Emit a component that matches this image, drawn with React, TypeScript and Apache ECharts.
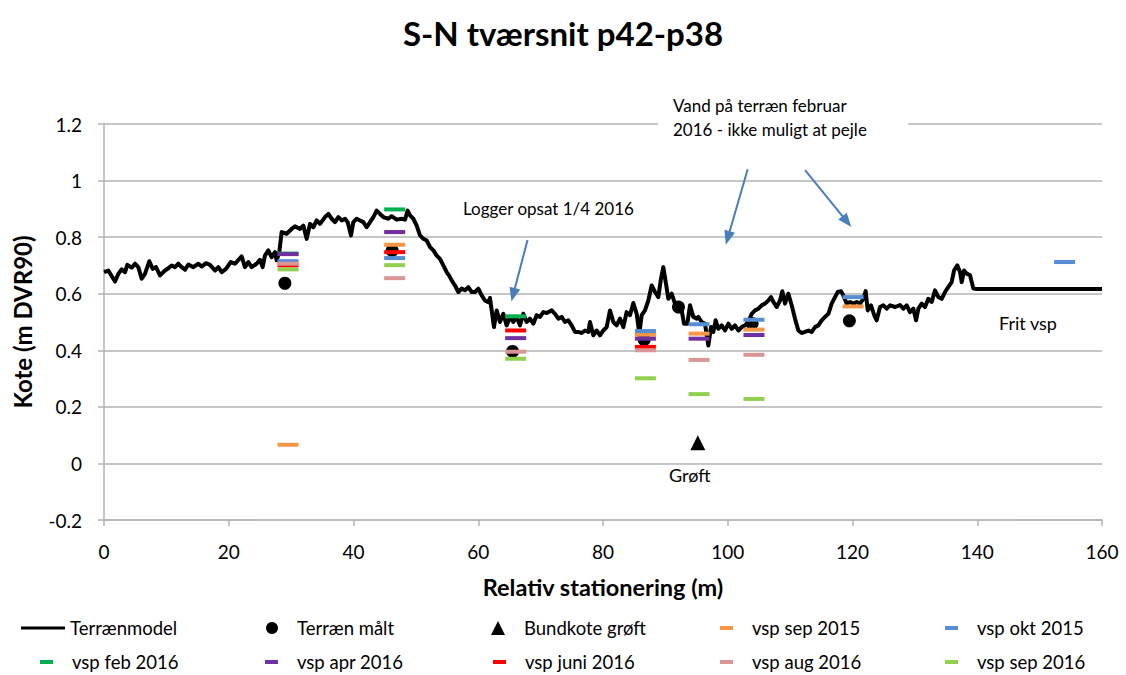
import React, { useEffect, useRef } from "react";
import * as echarts from "echarts";

const FONT = "Lato, 'Liberation Sans', sans-serif";

// Terrain model profile (station m, kote m DVR90)
const terrainStation = [
  0, 0.69, 1.76, 2.3, 2.83, 3.37, 3.74, 4.44, 4.97, 5.5, 6.04, 6.57, 7.27, 7.8, 8.34, 8.98, 9.78, 10.31, 10.85, 11.38,
  11.92, 12.45, 12.99, 13.52, 14.32, 15.12, 15.66, 16.35, 16.99, 17.8, 18.33, 18.87, 19.56, 20.31, 21.0, 22.07, 22.6,
  23.14, 23.67, 24.47, 25.0, 25.43, 25.8, 26.34, 26.87, 27.41, 27.68, 28.1, 28.48, 29.28, 30.08, 30.62, 31.42, 31.96,
  32.49, 33.03, 33.56, 34.1, 34.63, 35.43, 35.97, 36.5, 37.03, 37.57, 38.1, 38.64, 39.07, 39.6, 39.97, 40.51, 41.04,
  41.58, 42.11, 42.65, 43.18, 43.71, 44.25, 44.78, 45.58, 46.12, 46.92, 47.72, 48.26, 48.68, 49.06, 49.59, 50.13,
  50.66, 51.2, 51.73, 52.27, 52.8, 53.34, 53.87, 54.4, 54.94, 55.31, 55.74, 56.27, 56.81, 57.34, 57.88, 58.41, 58.95,
  59.48, 60.02, 60.55, 61.08, 61.62, 61.88, 62.52, 62.95, 63.48, 64.02, 64.55, 65.09, 65.62, 66.16, 66.69, 67.22,
  67.76, 68.29, 68.83, 69.36, 69.9, 70.43, 70.97, 71.77, 72.3, 72.84, 73.37, 73.91, 74.44, 74.97, 75.51, 76.04, 76.58,
  77.11, 77.65, 77.91, 78.45, 78.98, 79.52, 80.05, 80.59, 81.12, 81.66, 82.19, 82.72, 83.26, 83.79, 84.33, 84.86,
  85.4, 85.82, 86.2, 86.73, 87.27, 87.8, 88.34, 88.87, 89.25, 89.67, 90.1, 90.47, 91.01, 91.54, 92.08, 92.61, 92.99,
  93.52, 93.95, 94.48, 95.02, 95.28, 95.82, 96.35, 96.89, 97.32, 97.69, 98.06, 98.49, 99.03, 99.56, 100.1, 100.63,
  101.16, 101.7, 102.23, 102.77, 103.3, 103.84, 104.37, 104.91, 105.44, 105.97, 106.51, 106.94, 107.31, 107.84,
  108.38, 108.75, 109.18, 109.71, 110.25, 110.78, 111.32, 111.85, 112.39, 112.92, 113.46, 113.99, 114.53, 115.06,
  115.59, 116.13, 116.66, 117.2, 117.63, 118.16, 118.53, 119.07, 119.6, 120.14, 120.67, 121.21, 121.74, 122.11,
  122.44, 122.97, 123.5, 123.88, 124.41, 124.95, 125.48, 126.02, 126.82, 127.62, 128.15, 128.69, 129.22, 129.76,
  130.19, 130.56, 131.09, 131.63, 132.16, 132.7, 133.23, 133.77, 134.3, 134.84, 135.37, 135.9, 136.28, 136.81,
  137.24, 137.51, 137.88, 138.31, 138.84, 139.38, 139.91, 160,
];
const terrainKote = [
  0.676, 0.682, 0.643, 0.67, 0.686, 0.676, 0.702, 0.692, 0.706, 0.694, 0.653, 0.67, 0.715, 0.688, 0.694, 0.665, 0.682,
  0.69, 0.7, 0.694, 0.706, 0.694, 0.685, 0.703, 0.694, 0.706, 0.696, 0.708, 0.702, 0.682, 0.694, 0.676, 0.688, 0.712,
  0.706, 0.732, 0.694, 0.712, 0.694, 0.706, 0.72, 0.694, 0.735, 0.753, 0.729, 0.747, 0.718, 0.747, 0.818, 0.812,
  0.829, 0.838, 0.829, 0.841, 0.794, 0.847, 0.835, 0.859, 0.847, 0.871, 0.882, 0.865, 0.853, 0.871, 0.859, 0.865,
  0.853, 0.806, 0.853, 0.865, 0.859, 0.853, 0.835, 0.853, 0.871, 0.894, 0.882, 0.871, 0.865, 0.874, 0.862, 0.865,
  0.862, 0.894, 0.877, 0.865, 0.841, 0.806, 0.794, 0.788, 0.765, 0.753, 0.735, 0.723, 0.7, 0.676, 0.665, 0.647,
  0.629, 0.606, 0.618, 0.612, 0.623, 0.606, 0.606, 0.618, 0.594, 0.576, 0.57, 0.585, 0.482, 0.541, 0.5, 0.529, 0.488,
  0.518, 0.5, 0.518, 0.488, 0.529, 0.5, 0.512, 0.494, 0.524, 0.518, 0.535, 0.532, 0.541, 0.529, 0.512, 0.518, 0.5,
  0.506, 0.488, 0.465, 0.465, 0.461, 0.47, 0.465, 0.5, 0.453, 0.47, 0.453, 0.47, 0.482, 0.541, 0.5, 0.488, 0.512,
  0.482, 0.535, 0.524, 0.567, 0.529, 0.459, 0.524, 0.541, 0.576, 0.629, 0.606, 0.588, 0.647, 0.694, 0.635, 0.582,
  0.6, 0.565, 0.553, 0.541, 0.494, 0.494, 0.559, 0.518, 0.512, 0.518, 0.5, 0.494, 0.417, 0.482, 0.465, 0.506, 0.476,
  0.488, 0.47, 0.494, 0.476, 0.488, 0.47, 0.482, 0.488, 0.5, 0.529, 0.541, 0.547, 0.559, 0.565, 0.576, 0.588, 0.571,
  0.553, 0.576, 0.609, 0.565, 0.6, 0.559, 0.512, 0.47, 0.461, 0.465, 0.47, 0.465, 0.482, 0.488, 0.506, 0.518, 0.529,
  0.565, 0.588, 0.606, 0.609, 0.594, 0.565, 0.571, 0.565, 0.571, 0.565, 0.582, 0.609, 0.541, 0.559, 0.523, 0.506,
  0.553, 0.559, 0.547, 0.559, 0.553, 0.56, 0.547, 0.559, 0.535, 0.547, 0.506, 0.547, 0.565, 0.553, 0.582, 0.571,
  0.612, 0.588, 0.582, 0.606, 0.624, 0.641, 0.682, 0.7, 0.677, 0.641, 0.682, 0.671, 0.665, 0.618, 0.617, 0.617,
];

// Measured terrain points
const measuredStation = [29.0, 46.2, 65.5, 86.6, 92.1, 103.9, 119.5];
const measuredKote = [0.637, 0.753, 0.396, 0.437, 0.553, 0.495, 0.504];

// Ditch bottom
const ditchStation = [95.2];
const ditchKote = [0.073];

// Water level (vsp) wells
const wellStation = [29.5, 46.6, 66.0, 86.8, 95.4, 104.2, 120.1, 154.0];
const vspSep2015 = [0.066, 0.773, null, 0.455, 0.459, 0.473, 0.555, null];
const vspOkt2015 = [0.715, 0.726, null, 0.468, 0.492, 0.508, 0.588, 0.712];
const vspFeb2016 = [0.742, 0.898, 0.52, null, null, null, null, null];
const vspApr2016 = [0.74, 0.818, 0.443, 0.441, 0.441, 0.454, null, null];
const vspJuni2016 = [0.7, 0.747, 0.47, 0.412, null, null, null, null];
const vspAug2016 = [0.706, 0.655, 0.395, 0.4, 0.366, 0.384, null, null];
const vspSep2016 = [0.686, 0.701, 0.37, 0.301, 0.245, 0.228, null, null];

// Annotation arrows (data coordinates: from -> to)
const arrowFrom = [[67.9, 0.79], [103.2, 1.04], [112.4, 1.037]];
const arrowTo = [[65.6, 0.596], [100.0, 0.797], [119.1, 0.855]];

const vspSeries = [
  { name: "vsp sep 2015", values: vspSep2015, color: "#F79646" },
  { name: "vsp okt 2015", values: vspOkt2015, color: "#558ED5" },
  { name: "vsp feb 2016", values: vspFeb2016, color: "#00B050" },
  { name: "vsp apr 2016", values: vspApr2016, color: "#7030A0" },
  { name: "vsp juni 2016", values: vspJuni2016, color: "#FF0000" },
  { name: "vsp aug 2016", values: vspAug2016, color: "#D99694" },
  { name: "vsp sep 2016", values: vspSep2016, color: "#92D050" },
];

const legendLayout = [
  { name: "Terrænmodel", icon: "rect", left: 21, top: 618, w: 44, h: 3, pad: 0 },
  { name: "Terræn målt", icon: "circle", left: 266, top: 618, w: 12, h: 12, pad: 14 },
  { name: "Bundkote grøft", icon: "triangle", left: 491, top: 618, w: 14, h: 14, pad: 14 },
  { name: "vsp sep 2015", icon: "rect", left: 720, top: 618, w: 13, h: 4, pad: 14 },
  { name: "vsp okt 2015", icon: "rect", left: 945, top: 618, w: 13, h: 4, pad: 14 },
  { name: "vsp feb 2016", icon: "rect", left: 40, top: 652, w: 13, h: 4, pad: 14 },
  { name: "vsp apr 2016", icon: "rect", left: 265, top: 652, w: 13, h: 4, pad: 14 },
  { name: "vsp juni 2016", icon: "rect", left: 493, top: 652, w: 13, h: 4, pad: 14 },
  { name: "vsp aug 2016", icon: "rect", left: 720, top: 652, w: 13, h: 4, pad: 14 },
  { name: "vsp sep 2016", icon: "rect", left: 945, top: 652, w: 13, h: 4, pad: 14 },
];

export default function App() {
  const ref = useRef<HTMLDivElement>(null);
  useEffect(() => {
    if (!ref.current) return;
    const chart = echarts.init(ref.current, null, { renderer: "svg" });
    const grey = "#b3b3b3";
    const option: any = {
      animation: false,
      backgroundColor: "#ffffff",
      title: {
        text: "S-N tværsnit p42-p38",
        left: "center",
        top: 11,
        textStyle: { fontFamily: FONT, fontSize: 33, fontWeight: "bold", color: "#000" },
      },
      grid: { left: 104, right: 24, top: 124, bottom: 155, containLabel: false },
      legend: legendLayout.map((l) => ({
        data: [{ name: l.name, icon: l.icon }],
        left: l.left,
        top: l.top,
        itemWidth: l.w,
        itemHeight: l.h,
        padding: 0,
        selectedMode: false,
        textStyle: { fontFamily: FONT, fontSize: 18.5, color: "#000", lineHeight: 20, padding: [0, 0, 0, l.pad] },
      })),
      xAxis: {
        type: "value",
        min: 0,
        max: 160,
        interval: 20,
        name: "Relativ stationering (m)",
        nameLocation: "middle",
        nameGap: 55,
        nameTextStyle: { fontFamily: FONT, fontSize: 23.5, fontWeight: "bold", color: "#000" },
        axisLine: { show: true, onZero: false, lineStyle: { color: grey, width: 1.5 } },
        axisTick: { show: true, inside: false, length: 6, lineStyle: { color: grey, width: 1.5 } },
        axisLabel: { fontFamily: FONT, fontSize: 19, color: "#000", margin: 22 },
        splitLine: { show: false },
      },
      yAxis: {
        type: "value",
        min: -0.2,
        max: 1.2,
        interval: 0.2,
        name: "Kote (m DVR90)",
        nameLocation: "middle",
        nameGap: 70,
        nameRotate: 90,
        nameTextStyle: { fontFamily: FONT, fontSize: 24, fontWeight: "bold", color: "#000" },
        axisLine: { show: true, lineStyle: { color: grey, width: 1.5 } },
        axisTick: { show: true, inside: false, length: 6, lineStyle: { color: grey, width: 1.5 } },
        axisLabel: { fontFamily: FONT, fontSize: 19, color: "#000", margin: 22 },
        splitLine: { show: true, lineStyle: { color: grey, width: 1.5 } },
      },
      series: [
        {
          name: "Terrænmodel",
          type: "line",
          data: terrainStation.map((x, i) => [x, terrainKote[i]]),
          symbol: "none",
          color: "#000",
          itemStyle: { color: "#000" },
          lineStyle: { color: "#000", width: 4, join: "round" },
          z: 2,
          markLine: {
            silent: true,
            symbol: ["none", "triangle"],
            symbolSize: [11, 14],
            label: { show: false },
            lineStyle: { color: "#4A7EBB", width: 2, type: "solid" },
            data: arrowFrom.map((a, i) => [{ coord: a }, { coord: arrowTo[i] }]),
          },
        },
        {
          name: "Terræn målt",
          type: "scatter",
          data: measuredStation.map((x, i) => [x, measuredKote[i]]),
          symbol: "circle",
          symbolSize: 13,
          itemStyle: { color: "#000", opacity: 1 },
          z: 3,
        },
        {
          name: "Bundkote grøft",
          type: "scatter",
          data: ditchStation.map((x, i) => [x, ditchKote[i]]),
          symbol: "triangle",
          symbolSize: [15, 15],
          itemStyle: { color: "#000", opacity: 1 },
          z: 3,
        },
        ...vspSeries.map((s) => ({
          name: s.name,
          type: "scatter",
          data: wellStation
            .map((x, i) => [x, s.values[i]])
            .filter((p) => p[1] !== null),
          symbol: "rect",
          symbolSize: [21, 4],
          itemStyle: { color: s.color, opacity: 1 },
          z: 4,
        })),
      ],
      graphic: [
        { type: "rect", shape: { x: 658, y: 92, width: 250, height: 52 }, style: { fill: "#fff" }, z: 90 },
        {
          type: "text",
          x: 673,
          y: 105,
          z: 100,
          style: { text: "Vand på terræn februar", fontFamily: FONT, fontSize: 17, fill: "#000", verticalAlign: "middle" },
        },
        {
          type: "text",
          x: 673,
          y: 129,
          z: 100,
          style: { text: "2016 - ikke muligt at pejle", fontFamily: FONT, fontSize: 17, fill: "#000", verticalAlign: "middle" },
        },
        {
          type: "text",
          x: 463,
          y: 208,
          z: 100,
          style: { text: "Logger opsat 1/4 2016", fontFamily: FONT, fontSize: 17, fill: "#000", verticalAlign: "middle" },
        },
        {
          type: "text",
          x: 999,
          y: 323,
          z: 100,
          style: { text: "Frit vsp", fontFamily: FONT, fontSize: 18, fill: "#000", verticalAlign: "middle" },
        },
        {
          type: "text",
          x: 669,
          y: 475,
          z: 100,
          style: { text: "Grøft", fontFamily: FONT, fontSize: 18, fill: "#000", verticalAlign: "middle" },
        },
      ],
    };
    chart.setOption(option);
    return () => chart.dispose();
  }, []);
  return (
    <div
      ref={ref}
      style={{ position: "fixed", left: 0, top: 0, width: 1126, height: 675, background: "#fff" }}
    />
  );
}
